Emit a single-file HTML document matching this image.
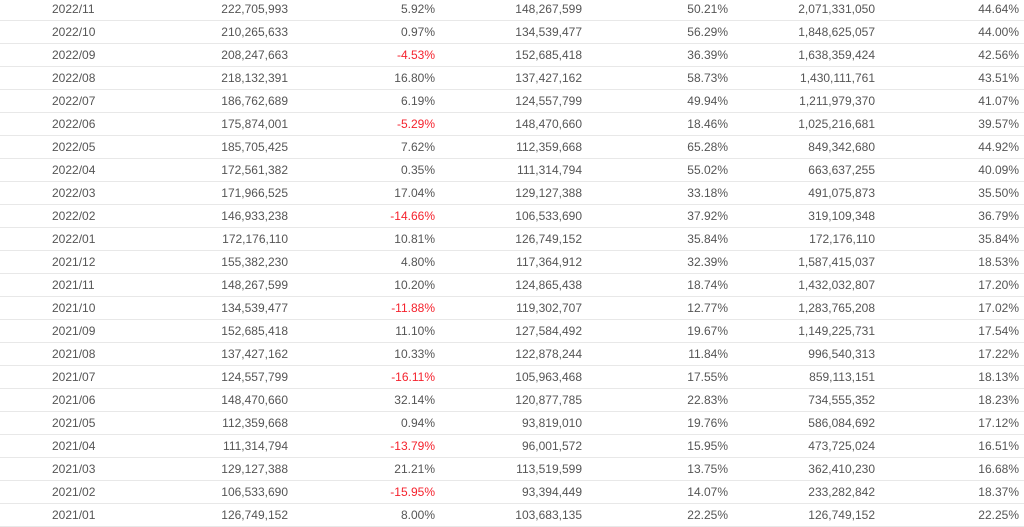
<!DOCTYPE html>
<html><head><meta charset="utf-8"><style>
body{margin:0;width:1024px;height:526px;overflow:hidden;background:#fff;font-family:"Liberation Sans",sans-serif;font-size:12px;color:#555;}
#tbl{position:absolute;left:0;top:-2px;width:1024px;}
.row{position:relative;height:22px;border-bottom:1px solid #e8e8e8;}
.c{position:absolute;top:0;line-height:22px;white-space:nowrap;}
.neg{color:#f5222d;}
</style></head><body>
<div id="tbl"></div>
<script>
const months=["2022/11","2022/10","2022/09","2022/08","2022/07","2022/06","2022/05","2022/04","2022/03","2022/02","2022/01","2021/12","2021/11","2021/10","2021/09","2021/08","2021/07","2021/06","2021/05","2021/04","2021/03","2021/02","2021/01"];
const current=["222,705,993","210,265,633","208,247,663","218,132,391","186,762,689","175,874,001","185,705,425","172,561,382","171,966,525","146,933,238","172,176,110","155,382,230","148,267,599","134,539,477","152,685,418","137,427,162","124,557,799","148,470,660","112,359,668","111,314,794","129,127,388","106,533,690","126,749,152"];
const mom=["5.92%","0.97%","-4.53%","16.80%","6.19%","-5.29%","7.62%","0.35%","17.04%","-14.66%","10.81%","4.80%","10.20%","-11.88%","11.10%","10.33%","-16.11%","32.14%","0.94%","-13.79%","21.21%","-15.95%","8.00%"];
const lastYear=["148,267,599","134,539,477","152,685,418","137,427,162","124,557,799","148,470,660","112,359,668","111,314,794","129,127,388","106,533,690","126,749,152","117,364,912","124,865,438","119,302,707","127,584,492","122,878,244","105,963,468","120,877,785","93,819,010","96,001,572","113,519,599","93,394,449","103,683,135"];
const yoy=["50.21%","56.29%","36.39%","58.73%","49.94%","18.46%","65.28%","55.02%","33.18%","37.92%","35.84%","32.39%","18.74%","12.77%","19.67%","11.84%","17.55%","22.83%","19.76%","15.95%","13.75%","14.07%","22.25%"];
const cumulative=["2,071,331,050","1,848,625,057","1,638,359,424","1,430,111,761","1,211,979,370","1,025,216,681","849,342,680","663,637,255","491,075,873","319,109,348","172,176,110","1,587,415,037","1,432,032,807","1,283,765,208","1,149,225,731","996,540,313","859,113,151","734,555,352","586,084,692","473,725,024","362,410,230","233,282,842","126,749,152"];
const cumYoy=["44.64%","44.00%","42.56%","43.51%","41.07%","39.57%","44.92%","40.09%","35.50%","36.79%","35.84%","18.53%","17.20%","17.02%","17.54%","17.22%","18.13%","18.23%","17.12%","16.51%","16.68%","18.37%","22.25%"];
const tbl=document.getElementById('tbl');
const rights=[288,435,582,728,875,1019];
const names=['current-value','mom-change','last-year-value','yoy-change','cumulative-value','cumulative-yoy'];
for(let i=0;i<months.length;i++){
  const r=document.createElement('div');r.className='row';
  
  
  const d=document.createElement('div');d.className='c';d.style.left='52px';d.textContent=months[i];
  
  
  r.appendChild(d);
  const vals=[current[i],mom[i],lastYear[i],yoy[i],cumulative[i],cumYoy[i]];
  for(let j=0;j<6;j++){
    const c=document.createElement('div');c.className='c';
    c.style.right=(1024-rights[j])+'px';
    c.textContent=vals[j];
    if(vals[j].startsWith('-'))c.classList.add('neg');
    
    
    r.appendChild(c);
  }
  tbl.appendChild(r);
}
</script>
</body></html>
